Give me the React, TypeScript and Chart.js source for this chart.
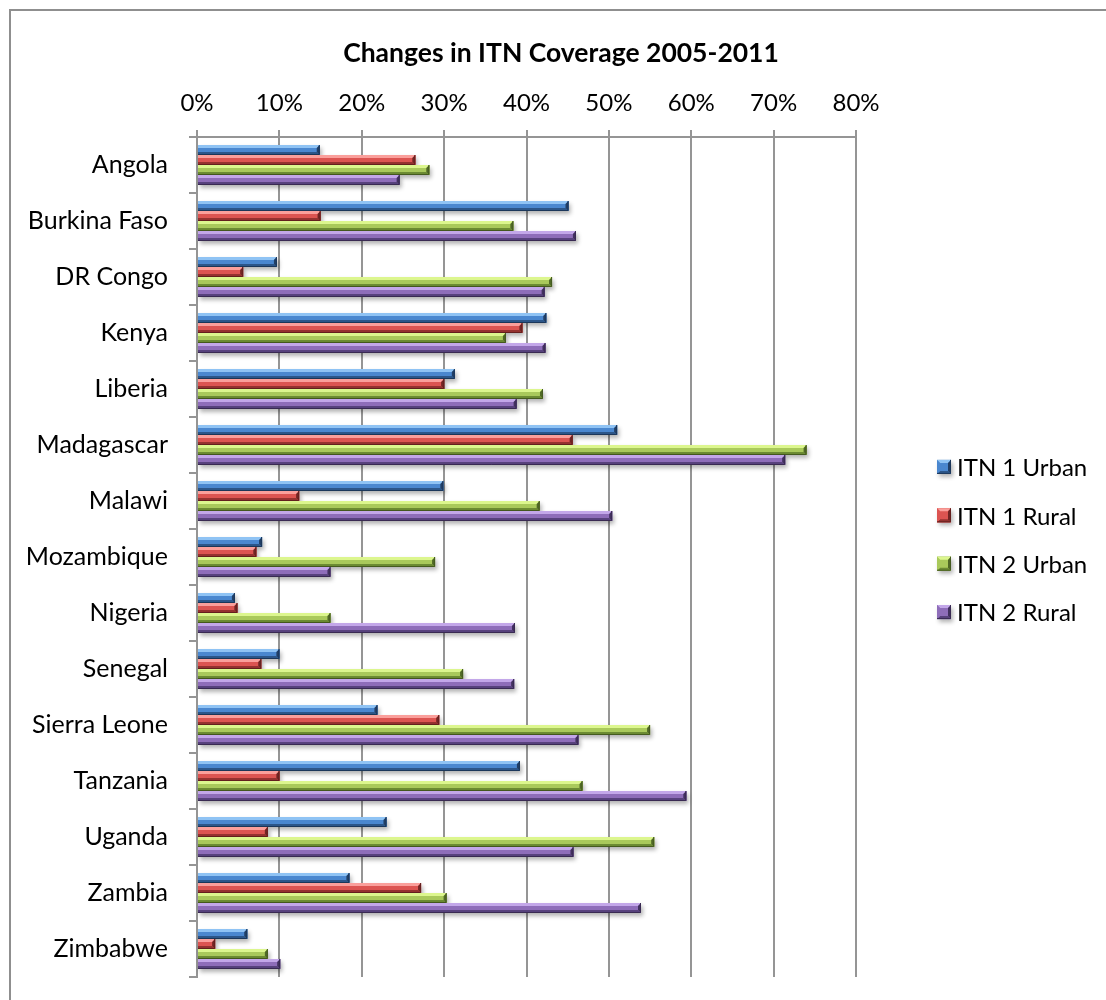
import React, { useEffect, useRef } from 'react';
import { Chart, registerables } from 'chart.js';

Chart.register(...registerables);

const chartTitle = 'Changes in ITN Coverage 2005-2011';

const countries = [
  'Angola',
  'Burkina Faso',
  'DR Congo',
  'Kenya',
  'Liberia',
  'Madagascar',
  'Malawi',
  'Mozambique',
  'Nigeria',
  'Senegal',
  'Sierra Leone',
  'Tanzania',
  'Uganda',
  'Zambia',
  'Zimbabwe',
];

const seriesNames = ['ITN 1 Urban', 'ITN 1 Rural', 'ITN 2 Urban', 'ITN 2 Rural'];

const itn1Urban = [0.149, 0.451, 0.097, 0.424, 0.313, 0.510, 0.299, 0.079, 0.046, 0.100, 0.219, 0.392, 0.230, 0.185, 0.061];
const itn1Rural = [0.265, 0.150, 0.056, 0.395, 0.300, 0.456, 0.124, 0.072, 0.049, 0.078, 0.294, 0.100, 0.086, 0.272, 0.022];
const itn2Urban = [0.282, 0.384, 0.431, 0.375, 0.420, 0.740, 0.416, 0.289, 0.162, 0.323, 0.550, 0.468, 0.555, 0.303, 0.086];
const itn2Rural = [0.246, 0.460, 0.422, 0.423, 0.388, 0.714, 0.504, 0.162, 0.386, 0.385, 0.463, 0.594, 0.457, 0.539, 0.101];

const xMin = 0;
const xMax = 0.8;
const xStep = 0.1;

const FONT = "Lato, 'Open Sans', sans-serif";

type Pal = { light: string; mid: string; dark: string; end: string; edge: string };

const palettes: Pal[] = [
  { light: '#8FC3F4', mid: '#4A87CF', dark: '#2C5689', end: '#213F66', edge: '#1C375A' },
  { light: '#FA9F9B', mid: '#DC5451', dark: '#953230', end: '#722524', edge: '#65201F' },
  { light: '#DCF68E', mid: '#A9C95B', dark: '#6C8B33', end: '#506926', edge: '#455B20' },
  { light: '#C3A7E9', mid: '#8E6DB9', dark: '#58427D', end: '#42315F', edge: '#392A52' },
];

function poly(ctx: CanvasRenderingContext2D, pts: number[]) {
  ctx.beginPath();
  ctx.moveTo(pts[0], pts[1]);
  for (let i = 2; i < pts.length; i += 2) ctx.lineTo(pts[i], pts[i + 1]);
  ctx.closePath();
  ctx.fill();
}

function bevelBar(ctx: CanvasRenderingContext2D, l: number, t: number, r: number, b: number, pal: Pal, withLeft: boolean) {
  const w = r - l;
  const h = b - t;
  if (w <= 0 || h <= 0) return;
  const e = Math.min(3, h / 3, w / 2);
  ctx.save();
  ctx.shadowColor = 'rgba(0,0,0,0.30)';
  ctx.shadowBlur = 4;
  ctx.shadowOffsetX = 2;
  ctx.shadowOffsetY = 3;
  ctx.fillStyle = pal.mid;
  ctx.fillRect(l, t, w, h);
  ctx.restore();
  ctx.fillStyle = pal.mid;
  ctx.fillRect(l, t, w, h);
  ctx.fillStyle = pal.light;
  poly(ctx, [l, t, r, t, r - e, t + e, withLeft ? l + e : l, t + e]);
  ctx.fillStyle = pal.dark;
  poly(ctx, [l, b, r, b, r - e, b - e, withLeft ? l + e : l, b - e]);
  ctx.fillStyle = pal.end;
  poly(ctx, [r, t, r, b, r - e, b - e, r - e, t + e]);
  if (withLeft) {
    ctx.fillStyle = pal.mid;
    poly(ctx, [l, t, l + e, t + e, l + e, b - e, l, b]);
  }
  ctx.strokeStyle = pal.edge;
  ctx.lineWidth = 1;
  ctx.beginPath();
  ctx.moveTo(l, b - 0.5);
  ctx.lineTo(r - 0.5, b - 0.5);
  ctx.lineTo(r - 0.5, t);
  ctx.stroke();
}

const bevelPlugin = {
  id: 'bevelBars',
  afterDatasetsDraw(chart: any) {
    const ctx: CanvasRenderingContext2D = chart.ctx;
    chart.data.datasets.forEach((_d: any, di: number) => {
      const meta = chart.getDatasetMeta(di);
      if (meta.hidden) return;
      meta.data.forEach((el: any) => {
        const p = el.getProps(['x', 'y', 'base', 'height'], true);
        const l = Math.min(p.base, p.x);
        const r = Math.max(p.base, p.x);
        const t = p.y - p.height / 2;
        bevelBar(ctx, l, t, r, t + p.height, palettes[di], false);
      });
    });
  },
};

const legendPlugin = {
  id: 'bevelLegend',
  afterDraw(chart: any) {
    const ctx: CanvasRenderingContext2D = chart.ctx;
    const area = chart.chartArea;
    const ds = chart.data.datasets;
    const pitch = 48.4;
    const x = area.right + 81;
    const midY = (area.top + area.bottom) / 2 - 17.5;
    ctx.save();
    ctx.font = `24px ${FONT}`;
    ctx.textBaseline = 'middle';
    ctx.textAlign = 'left';
    ds.forEach((d: any, i: number) => {
      const cy = midY + (i - (ds.length - 1) / 2) * pitch;
      bevelBar(ctx, x, cy - 7, x + 14, cy + 7, palettes[i], true);
      ctx.fillStyle = '#000';
      ctx.fillText(d.label, x + 20, cy + 1.5);
    });
    ctx.restore();
  },
};

export default function App() {
  const ref = useRef<HTMLCanvasElement | null>(null);

  useEffect(() => {
    let chart: Chart | null = null;
    let cancelled = false;
    const build = () => {
      if (cancelled || !ref.current) return;
      const values = [itn1Urban, itn1Rural, itn2Urban, itn2Rural];
      chart = new Chart(ref.current, {
        type: 'bar',
        data: {
          labels: countries,
          datasets: values.map((data, i) => ({
            label: seriesNames[i],
            data,
            backgroundColor: palettes[i].mid,
            borderWidth: 0,
            categoryPercentage: 0.714,
            barPercentage: 1.0,
          })),
        },
        options: {
          indexAxis: 'y',
          responsive: false,
          animation: false,
          devicePixelRatio: 1,
          layout: { padding: { left: 16, right: 0, top: 0, bottom: 23 } },
          plugins: {
            legend: { display: false },
            tooltip: { enabled: false },
            title: {
              display: true,
              text: chartTitle,
              color: '#000',
              font: { family: FONT, size: 26.5, weight: 'bold' },
              padding: { top: 37.5, bottom: 10 },
            },
          },
          scales: {
            x: {
              type: 'linear',
              position: 'top',
              min: xMin,
              max: xMax,
              ticks: {
                stepSize: xStep,
                callback: (v: any) => Math.round(Number(v) * 100) + '%',
                color: '#000',
                font: { family: FONT, size: 24 },
                padding: 12,
                maxRotation: 0,
                autoSkip: false,
              },
              grid: { color: '#959595', lineWidth: 2, tickLength: 7, drawTicks: true },
              border: { color: '#959595', width: 2 },
              afterFit: (s: any) => {
                s.height = 57.7;
              },
            },
            y: {
              type: 'category',
              position: 'left',
              offset: true,
              ticks: { color: '#000', font: { family: FONT, size: 25 }, padding: 21, autoSkip: false },
              grid: { offset: true, drawOnChartArea: false, drawTicks: true, tickLength: 8, color: '#959595', lineWidth: 2 },
              border: { color: '#959595', width: 2 },
              afterFit: (s: any) => {
                s.width = 181;
                s.paddingTop = 0;
                s.paddingBottom = 0;
              },
            },
            spacer: {
              type: 'linear',
              position: 'right',
              display: true,
              ticks: { display: false },
              grid: { display: false, drawTicks: false },
              border: { display: false },
              afterFit: (s: any) => {
                s.width = 250;
                s.paddingTop = 0;
                s.paddingBottom = 0;
              },
            },
          },
        } as any,
        plugins: [bevelPlugin, legendPlugin],
      });
    };
    const fonts = (document as any).fonts;
    if (fonts && fonts.load) {
      Promise.all([fonts.load(`24px Lato`), fonts.load(`bold 24px Lato`)]).then(build, build);
    } else {
      build();
    }
    return () => {
      cancelled = true;
      if (chart) chart.destroy();
    };
  }, []);

  return (
    <div style={{ position: 'absolute', left: 0, top: 0, width: 1106, height: 1000, overflow: 'hidden', background: '#fff' }}>
      <div
        style={{
          position: 'absolute',
          left: 9,
          top: 9,
          width: 1200,
          height: 1200,
          border: '2px solid #8f8f8f',
          boxSizing: 'border-box',
        }}
      />
      <canvas ref={ref} width={1106} height={1000} style={{ position: 'absolute', left: 0, top: 0, width: 1106, height: 1000 }} />
    </div>
  );
}
